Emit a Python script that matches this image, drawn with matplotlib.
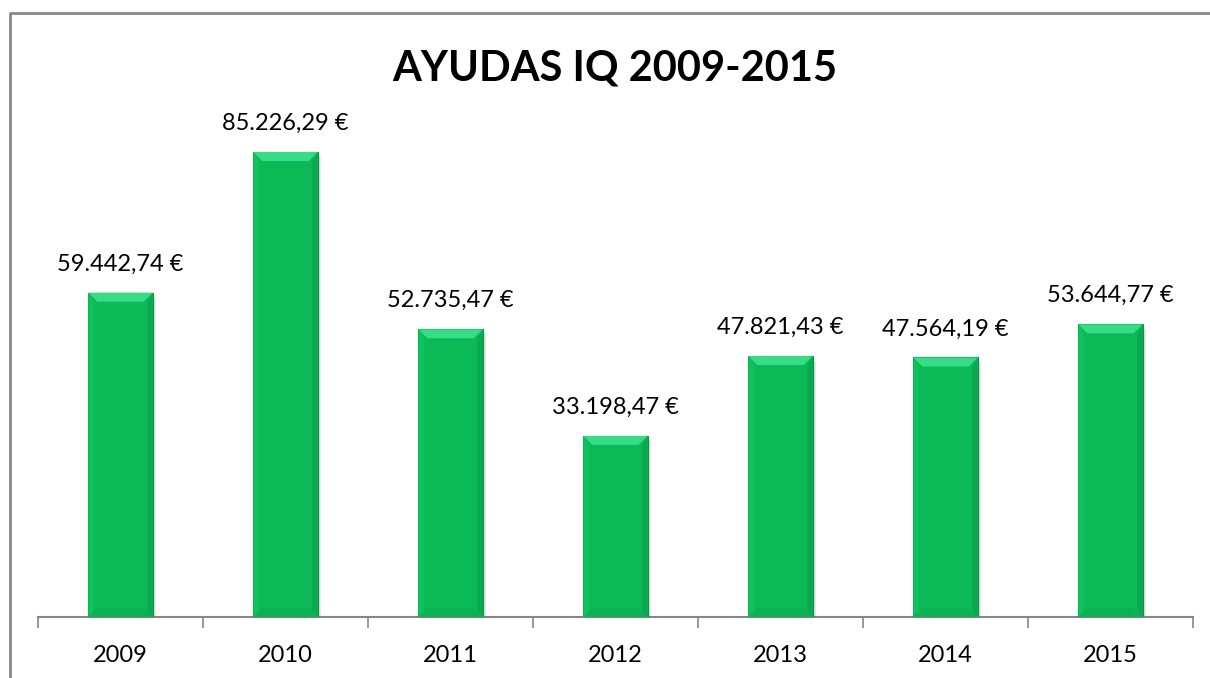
import matplotlib
matplotlib.use("Agg")
import matplotlib.pyplot as plt
from matplotlib.patches import Polygon
from matplotlib.lines import Line2D

years = ["2009", "2010", "2011", "2012", "2013", "2014", "2015"]
values = [59442.74, 85226.29, 52735.47, 33198.47, 47821.43, 47564.19, 53644.77]
labels = ["59.442,74 €", "85.226,29 €", "52.735,47 €", "33.198,47 €",
          "47.821,43 €", "47.564,19 €", "53.644,77 €"]
title = "AYUDAS IQ 2009-2015"

plt.rcParams['font.family'] = ['Lato', 'DejaVu Sans']

W, H = 1210, 678
fig = plt.figure(figsize=(W / 100, H / 100), dpi=100)
ax = fig.add_axes([38 / W, 61 / H, 1155 / W, 545.6 / H])

x = list(range(len(years)))
bw = 0.39
main = '#0BBA57'
bars = ax.bar(x, values, width=bw, color=main, edgecolor='#079446', linewidth=0.8, zorder=3)
ax.set_xlim(-0.5, len(years) - 0.5)
ax.set_ylim(0, 100000)

# bevel effect (size in pixels converted through the axes scale)
fig.canvas.draw()
px_x = 1.0 / (ax.transData.transform((1, 0))[0] - ax.transData.transform((0, 0))[0])
px_y = 1.0 / (ax.transData.transform((0, 1))[1] - ax.transData.transform((0, 0))[1])
bx, by = 9 * px_x, 9 * px_y
for b in bars:
    l, r = b.get_x(), b.get_x() + b.get_width()
    t = b.get_height()
    ax.add_patch(Polygon([(l, t), (r, t), (r - bx, t - by), (l + bx, t - by)],
                         closed=True, facecolor='#38DC86', edgecolor='none', zorder=4))
    ax.add_patch(Polygon([(r, t), (r, 0), (r - bx * 0.6, by * 0.6), (r - bx * 0.6, t - by)],
                         closed=True, facecolor='#0AA951', edgecolor='none', zorder=4))
    ax.add_patch(Polygon([(l, t), (l, 0), (l + bx * 0.6, by * 0.6), (l + bx * 0.6, t - by)],
                         closed=True, facecolor='#10C25E', edgecolor='none', zorder=4))
    ax.add_patch(Polygon([(l, 0), (r, 0), (r - bx, by), (l + bx, by)],
                         closed=True, facecolor='#0AB253', edgecolor='none', zorder=4))
    # shadow
    ax.add_patch(Polygon([(r, t - by * 0.3), (r + px_x * 3, t - by * 0.6), (r + px_x * 3, 0), (r, 0)],
                         closed=True, facecolor='#dedede', edgecolor='none', zorder=2))

for xi, v, lab in zip(x, values, labels):
    ax.annotate(lab, (xi, v), xytext=(0, 13), textcoords='offset points',
                ha='center', va='bottom', fontsize=17, color='black')

for s in ['top', 'right', 'left']:
    ax.spines[s].set_visible(False)
ax.spines['bottom'].set_color('#868686')
ax.spines['bottom'].set_linewidth(1.5)
ax.set_yticks([])
ax.set_xticks([i - 0.5 for i in range(len(years) + 1)])
ax.set_xticklabels([])
ax.tick_params(axis='x', which='major', length=8, width=1.2, color='#868686')
ax.set_xticks(x, minor=True)
ax.set_xticklabels(years, minor=True, fontsize=17)
ax.tick_params(axis='x', which='minor', length=0, pad=20)

fig.text(615 / W, 1 - 68 / H, title, ha='center', va='center',
         fontsize=30, fontweight='bold')

bx0, by0 = 9.5 / W, 1 - 13 / H
fig.add_artist(Line2D([bx0, bx0, 1], [0, by0, by0], transform=fig.transFigure,
                      color='#888888', linewidth=2))

fig.savefig('out.png', dpi=100)
